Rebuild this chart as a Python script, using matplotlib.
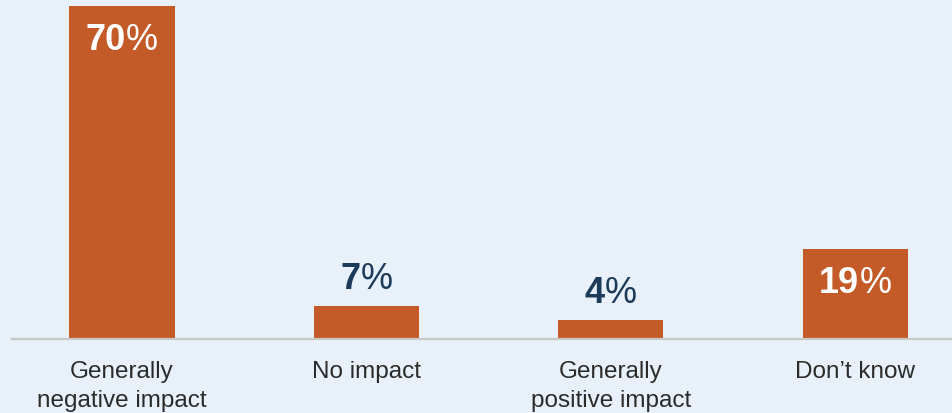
import matplotlib
matplotlib.use("Agg")
import matplotlib.pyplot as plt
from matplotlib.offsetbox import TextArea, HPacker, AnnotationBbox

categories = ["Generally\nnegative impact", "No impact", "Generally\npositive impact", "Don\u2019t know"]
values = [70, 7, 4, 19]
inside = [True, False, False, True]

BG = "#e8f1f9"
BAR = "#c35a27"
NAVY = "#1c3a5a"
FONT = "Liberation Sans"

fig = plt.figure(figsize=(9.53, 4.14), dpi=100, facecolor=BG)
ax = fig.add_axes([12/953, (414-340)/414, 1 - 12/953, (340-7)/414], facecolor=BG)

x = list(range(len(values)))
ax.bar(x, values, width=0.43, color=BAR, zorder=2)
ax.set_xlim(-0.45, 3.4)
ax.set_ylim(0, 70)

for s in ["top", "right", "left"]:
    ax.spines[s].set_visible(False)
ax.spines["bottom"].set_color("#c8c8c4")
ax.spines["bottom"].set_linewidth(1.6)
ax.set_yticks([])
ax.set_xticks(x, categories)
ax.tick_params(axis="x", length=0, pad=15)
for lab in ax.get_xticklabels():
    lab.set_fontfamily(FONT)
    lab.set_fontsize(17.5)
    lab.set_color("#2b2b2b")
    lab.set_linespacing(1.42)

for xi, v, ins in zip(x, values, inside):
    col = "white" if ins else NAVY
    num = TextArea(str(v), textprops=dict(fontfamily=FONT, fontweight="bold", fontsize=26, color=col))
    pct = TextArea("%", textprops=dict(fontfamily=FONT, fontweight="normal", fontsize=26, color=col))
    pack = HPacker(children=[num, pct], align="baseline", pad=0, sep=0)
    yoff = -51 if ins else 10
    ab = AnnotationBbox(pack, (xi, v), xybox=(0, yoff), xycoords="data",
                        boxcoords="offset pixels", box_alignment=(0.5, 0.0),
                        frameon=False, pad=0, annotation_clip=False, zorder=3)
    ax.add_artist(ab)

fig.savefig("out.png", dpi=100, facecolor=BG)
